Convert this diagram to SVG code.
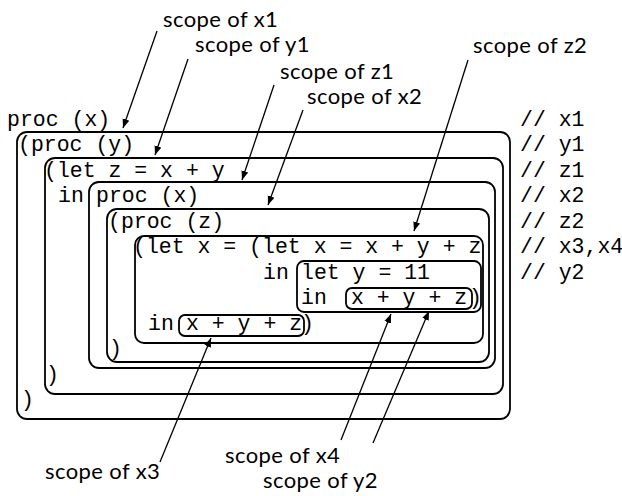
<svg xmlns="http://www.w3.org/2000/svg" width="622" height="496" viewBox="0 0 622 496">
<style>
.code{font-family:"Liberation Mono","Courier New",monospace;font-size:21.5px;fill:#000}
.lbl{font-family:Lato,"Open Sans",sans-serif;font-size:22px;letter-spacing:0.4px;fill:#000}
.box{fill:none;stroke:#000;stroke-width:1.8}
.arr{fill:none;stroke:#000;stroke-width:1.3;marker-end:url(#ah)}
</style>
<defs>
<marker id="ah" markerUnits="userSpaceOnUse" markerWidth="10" markerHeight="8" refX="9" refY="4" orient="auto">
<path d="M0,0.5 L9,4 L0,7.5 Z" fill="#000"/>
</marker>
</defs>
<rect width="622" height="496" fill="#fff"/>
<g id="box-x1"><rect class="box" x="17" y="132" width="493" height="287" rx="10"/></g>
<g id="box-y1"><rect class="box" x="45" y="158" width="458" height="236" rx="10"/></g>
<g id="box-z1"><rect class="box" x="89" y="182" width="406" height="186" rx="10"/></g>
<g id="box-x2"><rect class="box" x="107" y="209" width="382" height="153" rx="10"/></g>
<g id="box-z2"><rect class="box" x="135" y="236" width="348" height="107" rx="9"/></g>
<g id="box-x4"><rect class="box" x="297" y="261" width="184" height="51" rx="7"/></g>
<g id="box-y2"><rect class="box" x="346" y="288" width="126" height="21" rx="6"/></g>
<g id="box-x3"><rect class="box" x="179" y="315" width="125" height="21" rx="6"/></g>
<g id="code">
<text class="code" x="7" y="125.5">proc (x)</text>
<text class="code" x="18" y="151">(proc (y)</text>
<text class="code" x="44" y="176.5">(let z = x + y</text>
<text class="code" x="58" y="202">in</text>
<text class="code" x="96" y="202">proc (x)</text>
<text class="code" x="108" y="227.5">(proc (z)</text>
<text class="code" x="133" y="253">(let x = (let x = x + y + z</text>
<text class="code" x="263" y="278.5">in</text>
<text class="code" x="301" y="278.5">let y = 11</text>
<text class="code" x="301" y="304">in</text>
<text class="code" x="351" y="304">x + y + z</text>
<text class="code" x="469" y="304">)</text>
<text class="code" x="148" y="329.5">in</text>
<text class="code" x="186" y="329.5">x + y + z</text>
<text class="code" x="301" y="329.5">)</text>
<text class="code" x="109" y="355">)</text>
<text class="code" x="46" y="380.5">)</text>
<text class="code" x="21" y="406">)</text>
</g>
<g id="comments">
<text class="code" x="520" y="125.5">// x1</text>
<text class="code" x="520" y="151">// y1</text>
<text class="code" x="520" y="176.5">// z1</text>
<text class="code" x="520" y="202">// x2</text>
<text class="code" x="520" y="227.5">// z2</text>
<text class="code" x="520" y="253">// x3,x4</text>
<text class="code" x="520" y="278.5">// y2</text>
</g>
<g id="labels">
<text class="lbl" x="163" y="27">scope of x1</text>
<text class="lbl" x="195" y="52">scope of y1</text>
<text class="lbl" x="280" y="79">scope of z1</text>
<text class="lbl" x="307" y="104">scope of x2</text>
<text class="lbl" x="473" y="53">scope of z2</text>
<text class="lbl" x="45" y="479">scope of x3</text>
<text class="lbl" x="225" y="463">scope of x4</text>
<text class="lbl" x="263" y="488">scope of y2</text>
</g>
<g id="connectors">
<line class="arr" x1="157" y1="31" x2="123" y2="128"/>
<line class="arr" x1="188" y1="59" x2="155" y2="155"/>
<line class="arr" x1="274" y1="85" x2="242" y2="180"/>
<line class="arr" x1="303" y1="110" x2="268" y2="205"/>
<line class="arr" x1="468" y1="60" x2="414" y2="231"/>
<line class="arr" x1="160" y1="462" x2="211" y2="338"/>
<line class="arr" x1="341" y1="440" x2="391" y2="314"/>
<line class="arr" x1="373" y1="443" x2="429" y2="311"/>
</g>
</svg>
